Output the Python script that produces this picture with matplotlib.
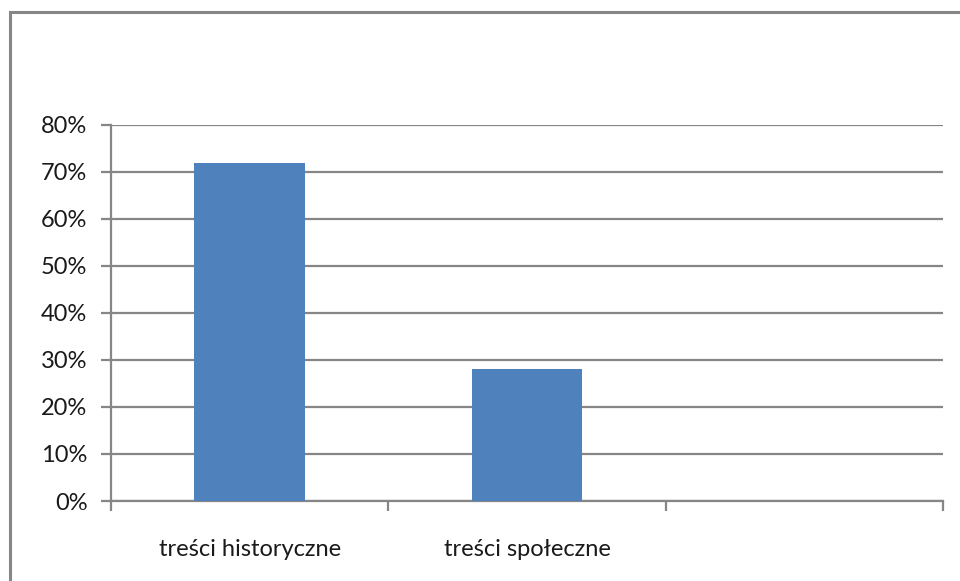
import matplotlib.pyplot as plt
import matplotlib.ticker as mticker
from matplotlib.patches import Rectangle
import numpy as np

plt.rcParams['font.family'] = ['Lato', 'DejaVu Sans']

categories = ["treści historyczne", "treści społeczne", ""]
values = [0.72, 0.28, 0.0]

grid_col = "#868686"
bar_col = "#4F81BD"
text_col = "#1a1a1a"

fig = plt.figure(figsize=(9.6, 5.81), dpi=100)

# outer chart border (only top and left edges visible in the crop)
fig.patches.append(Rectangle((10 / 960, -0.1), 1.2, 1 - 12.5 / 581 + 0.1,
                             transform=fig.transFigure, fill=False,
                             edgecolor=grid_col, linewidth=2.2))

ax = fig.add_axes([111 / 960, 1 - 501 / 581, 832 / 960, 376 / 581])

x = np.arange(len(categories))
ax.bar(x, values, width=0.4, color=bar_col, zorder=3)

ax.set_xlim(-0.5, len(categories) - 0.5)
ax.set_ylim(0, 0.8)
ax.yaxis.set_major_locator(mticker.MultipleLocator(0.1))
ax.yaxis.set_major_formatter(mticker.PercentFormatter(1.0, decimals=0))
ax.grid(axis="y", color=grid_col, linewidth=1.6, zorder=0)

ax.set_xticks(x)
ax.set_xticklabels(categories)
ax.set_xticks(np.arange(len(categories) + 1) - 0.5, minor=True)
ax.tick_params(axis="x", which="major", length=0, pad=27, labelsize=17, labelcolor=text_col)
ax.tick_params(axis="x", which="minor", length=7, width=1.6, color=grid_col, direction="out")
ax.tick_params(axis="y", length=7, width=1.6, color=grid_col, pad=10, labelsize=17, labelcolor=text_col)

for s in ["top", "right"]:
    ax.spines[s].set_visible(False)
for s in ["left", "bottom"]:
    ax.spines[s].set_color(grid_col)
    ax.spines[s].set_linewidth(1.6)

fig.savefig("out.png", dpi=100)
